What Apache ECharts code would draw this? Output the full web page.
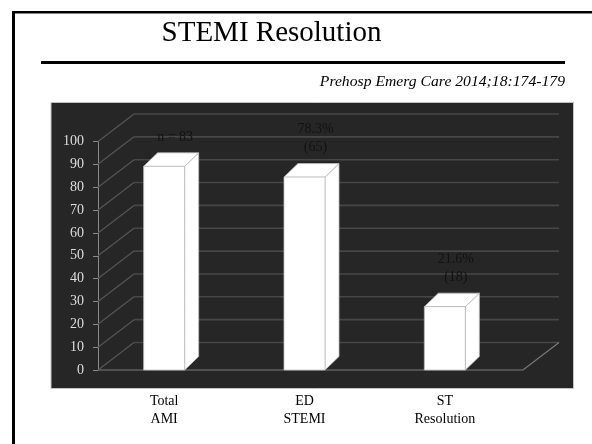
<!DOCTYPE html>
<html>
<head>
<meta charset="utf-8">
<script src="https://cdn.jsdelivr.net/npm/echarts@6/dist/echarts.min.js"></script>
<style>
  html, body { margin: 0; padding: 0; background: #ffffff; }
  #chart { width: 592px; height: 444px; }
</style>
</head>
<body>
<div id="chart"></div>
<script>
// Chart data
const categories = ['Total\nAMI', 'ED\nSTEMI', 'ST\nResolution'];
const values = [83, 78.3, 21.6];
const valueLabels = ['n = 83', '78.3%\n(65)', '21.6%\n(18)'];
const yTicks = [0, 10, 20, 30, 40, 50, 60, 70, 80, 90, 100];

// 3-D look: wall depth and bar depth in pixels
const WALL_DX = 36, WALL_DY = -27.5;
const BAR_DX = 14, BAR_DY = -13.5;
const BAR_W = 41;
const AXIS_SHIFT = 4;      // front value axis sits a little right of the first band edge
const FLOOR_EXTRA = 8;     // floor front edge runs a little past the last band
const SERIF = '"Liberation Serif", "Times New Roman", serif';

const chart = echarts.init(document.getElementById('chart'), null, { renderer: 'canvas' });

function renderWalls(params, api) {
  const cs = params.coordSys;
  const ax = cs.x + AXIS_SHIFT;
  const frontRight = cs.x + cs.width + FLOOR_EXTRA;
  const backRight = frontRight + WALL_DX;
  const children = [];
  yTicks.forEach(function (t) {
    const y = api.coord([0, t])[1];
    children.push({
      type: 'polyline',
      shape: { points: [[ax, y], [ax + WALL_DX, y + WALL_DY]] },
      style: { stroke: '#555555', lineWidth: 1.2, fill: null }
    });
    children.push({
      type: 'polyline',
      shape: { points: [[ax + WALL_DX, y + WALL_DY], [backRight, y + WALL_DY]] },
      style: { stroke: '#474747', lineWidth: 1.6, fill: null }
    });
  });
  const y0 = api.coord([0, 0])[1];
  children.push({
    type: 'polyline',
    shape: { points: [[ax, y0], [frontRight, y0], [backRight, y0 + WALL_DY]] },
    style: { stroke: '#7a7a7a', lineWidth: 1.2, fill: null }
  });
  return { type: 'group', children: children };
}

function renderBar(params, api) {
  const i = api.value(0);
  const v = api.value(1);
  const base = api.coord([i, 0]);
  const top = api.coord([i, v]);
  const cx = base[0];
  const y0 = base[1];
  const backTop = top[1] + WALL_DY;
  const frontTop = backTop - BAR_DY;
  const xl = cx - BAR_W / 2, xr = cx + BAR_W / 2;
  const edge = { stroke: '#bdbdbd', lineWidth: 0.8 };
  return {
    type: 'group',
    children: [
      {
        type: 'polygon',
        shape: { points: [[xr, frontTop], [xr + BAR_DX, backTop], [xr + BAR_DX, y0 + BAR_DY], [xr, y0]] },
        style: Object.assign({ fill: '#ffffff' }, edge)
      },
      {
        type: 'polygon',
        shape: { points: [[xl, frontTop], [xr, frontTop], [xr + BAR_DX, backTop], [xl + BAR_DX, backTop]] },
        style: Object.assign({ fill: '#ffffff' }, edge)
      },
      {
        type: 'rect',
        shape: { x: xl, y: frontTop, width: BAR_W, height: y0 - frontTop },
        style: Object.assign({ fill: '#ffffff' }, edge)
      },
      {
        type: 'text',
        style: {
          text: valueLabels[params.dataIndex],
          x: cx + 11,
          y: backTop - 7,
          align: 'center',
          verticalAlign: 'bottom',
          font: '14px ' + SERIF,
          lineHeight: 18,
          fill: '#121212'
        }
      }
    ]
  };
}

chart.setOption({
  animation: false,
  backgroundColor: '#ffffff',
  graphic: [
    // slide frame
    { type: 'line', z: -2, shape: { x1: 13.5, y1: 11, x2: 13.5, y2: 444 }, style: { stroke: '#000', lineWidth: 3 } },
    { type: 'line', z: -2, shape: { x1: 12, y1: 12.2, x2: 592, y2: 12.2 }, style: { stroke: '#000', lineWidth: 2.5 } },
    {
      type: 'text', z: 5,
      style: { text: 'STEMI Resolution', x: 271.5, y: 33, align: 'center', verticalAlign: 'middle',
               font: '29px ' + SERIF, fill: '#000' }
    },
    { type: 'line', z: 5, shape: { x1: 41, y1: 62.5, x2: 565, y2: 62.5 }, style: { stroke: '#000', lineWidth: 3 } },
    {
      type: 'text', z: 5,
      x: 565, y: 82, scaleX: 1.12,
      style: { text: 'Prehosp Emerg Care 2014;18:174-179', x: 0, y: 0, align: 'right', verticalAlign: 'middle',
               font: 'italic 14px ' + SERIF, fill: '#000' }
    },
    // chart panel
    { type: 'rect', z: -1, shape: { x: 51, y: 102.5, width: 522.5, height: 286 },
      style: { fill: '#262626', stroke: '#c4c4c4', lineWidth: 1 } }
  ],
  grid: { left: 94, width: 421, top: 141.5, height: 228.5, containLabel: false },
  xAxis: {
    type: 'category',
    data: categories,
    axisLine: { show: false },
    axisTick: { show: false },
    axisLabel: { margin: 23, color: '#000', fontFamily: SERIF, fontSize: 14, lineHeight: 17.6 }
  },
  yAxis: {
    type: 'value',
    min: 0, max: 100, interval: 10,
    offset: -AXIS_SHIFT,
    axisLine: { show: true, lineStyle: { color: '#8a8a8a', width: 1 } },
    axisTick: { show: true, length: 5, lineStyle: { color: '#8a8a8a' } },
    axisLabel: { margin: 14, color: '#dedede', fontFamily: SERIF, fontSize: 14 },
    splitLine: { show: false }
  },
  series: [
    { type: 'custom', renderItem: renderWalls, data: [[0, 0]], z: 1, silent: true },
    { type: 'custom', renderItem: renderBar, data: values.map(function (v, i) { return [i, v]; }), z: 3 }
  ]
});
</script>
</body>
</html>
